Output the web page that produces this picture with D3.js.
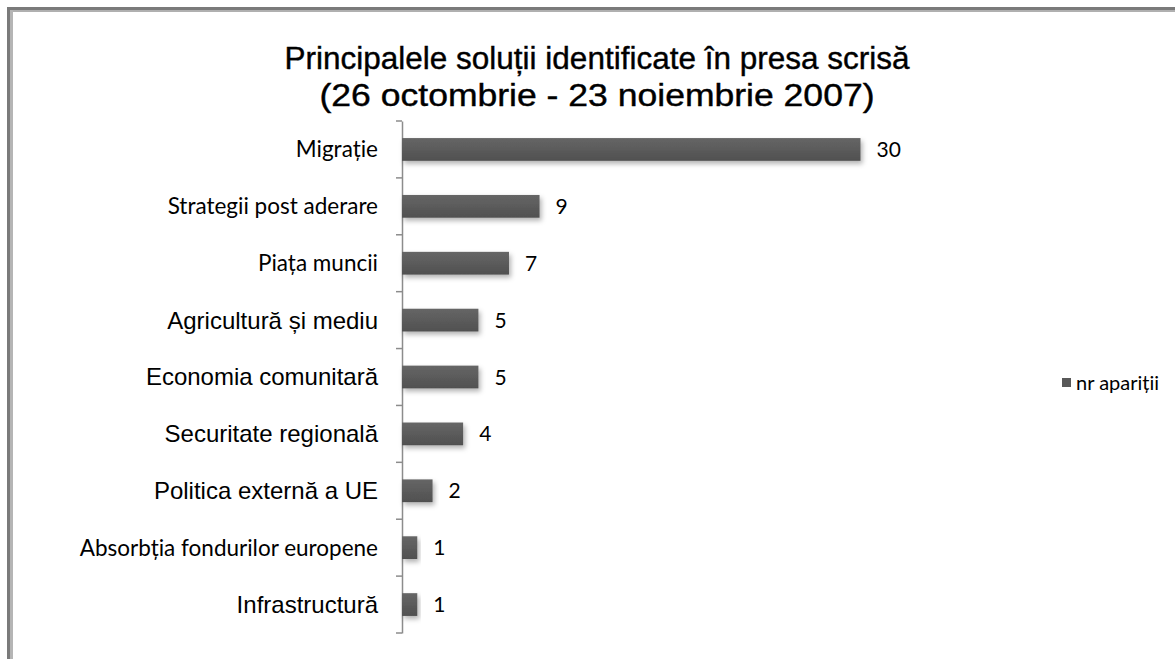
<!DOCTYPE html>
<html><head><meta charset="utf-8">
<script src="https://cdn.jsdelivr.net/npm/d3@7"></script>
<style>body{margin:0;background:#fff;} svg{display:block;}</style>
</head><body>
<svg id="c" width="1175" height="659"></svg>
<script>
const categories = ["Migrație","Strategii post aderare","Piața muncii","Agricultură și mediu","Economia comunitară","Securitate regională","Politica externă a UE","Absorbția fondurilor europene","Infrastructură"];
const values = [30,9,7,5,5,4,2,1,1];
const seriesName = "nr apariții";
const titleLines = ["Principalele soluții identificate în presa scrisă","(26 octombrie - 23 noiembrie 2007)"];

const svg = d3.select("#c");
const W = 1175, H = 659;
const calibriLike = new Set(["Migrație","Strategii post aderare","Piața muncii","Absorbția fondurilor europene"]);

const defs = svg.append("defs");
const f = defs.append("filter").attr("id","sh").attr("x","-10%").attr("y","-30%").attr("width","130%").attr("height","190%");
f.append("feDropShadow").attr("dx",2).attr("dy",3).attr("stdDeviation",2.5).attr("flood-color","#000").attr("flood-opacity",0.3);
const g = defs.append("linearGradient").attr("id","bg").attr("x1",0).attr("y1",0).attr("x2",0).attr("y2",1);
g.append("stop").attr("offset","0%").attr("stop-color","#666");
g.append("stop").attr("offset","100%").attr("stop-color","#505050");

// frame
svg.append("rect").attr("x",7).attr("y",7).attr("width",W).attr("height",3).attr("fill","#7a7a7a");
svg.append("rect").attr("x",10).attr("y",10).attr("width",W).attr("height",2).attr("fill","#b0b0b0");
svg.append("rect").attr("x",7).attr("y",7).attr("width",3).attr("height",H).attr("fill","#7a7a7a");
svg.append("rect").attr("x",10).attr("y",10).attr("width",3).attr("height",H).attr("fill","#b5b5b5");

const y = d3.scaleBand().domain(categories).range([121,633]).paddingInner(0.6).paddingOuter(0.3);
const x = d3.scaleLinear().domain([0,30]).range([402,860.5]);

// title
const titleWidths = [625, 555];
svg.append("text").attr("text-anchor","middle")
  .style("font-family","'Liberation Sans', Arial, sans-serif").style("font-size","31px").attr("fill","#000")
  .style("stroke","#000").style("stroke-width","0.4px")
  .selectAll("tspan").data(titleLines).join("tspan").attr("x",597).attr("y",(d,i)=>69+i*37)
  .attr("textLength",(d,i)=>titleWidths[i]).attr("lengthAdjust","spacingAndGlyphs").text(d=>d);

// axis
const axisG = svg.append("g").attr("transform",`translate(${x(0)},0)`)
  .call(d3.axisLeft(y).tickSize(0).tickFormat(""));
axisG.select(".domain").attr("stroke","#8c8c8c").attr("stroke-width",1.5);
const step = y.step();
const bounds = d3.range(categories.length+1).map(i=>y.range()[0]+i*step);
axisG.selectAll(".bt").data(bounds).join("line").attr("class","bt")
  .attr("x1",-6).attr("x2",0).attr("y1",d=>d).attr("y2",d=>d).attr("stroke","#8c8c8c").attr("stroke-width",1.5);

// labels
svg.append("g").selectAll("text").data(categories).join("text")
  .attr("x",378).attr("y",d=>y(d)+y.bandwidth()/2).attr("dy","0.35em").attr("text-anchor","end")
  .style("font-family",d=>calibriLike.has(d)?"Lato, 'Open Sans', sans-serif":"'Liberation Sans', Arial, sans-serif")
  .style("font-size",d=>calibriLike.has(d)?"22.5px":"24px").attr("fill","#000").text(d=>d);

// bars
svg.append("g").selectAll("rect").data(values).join("rect")
  .attr("x",x(0)).attr("y",(d,i)=>y(categories[i])).attr("height",y.bandwidth())
  .attr("width",d=>x(d)-x(0)).attr("fill","url(#bg)").attr("filter","url(#sh)");

// value labels
svg.append("g").selectAll("text").data(values).join("text")
  .attr("x",d=>x(d)+16).attr("y",(d,i)=>y(categories[i])+y.bandwidth()/2).attr("dy","0.36em")
  .style("font-family","Lato, 'Open Sans', sans-serif").style("font-size","21px").attr("fill","#000").text(d=>d);

// legend
const lg = svg.append("g").attr("transform","translate(1062,378)");
lg.append("rect").attr("width",9).attr("height",9).attr("fill","#595959");
lg.append("text").attr("x",14).attr("y",4.5).attr("dy","0.35em")
  .style("font-family","Lato, 'Open Sans', sans-serif").style("font-size","20px").attr("fill","#000").text(seriesName);
</script>
</body></html>
